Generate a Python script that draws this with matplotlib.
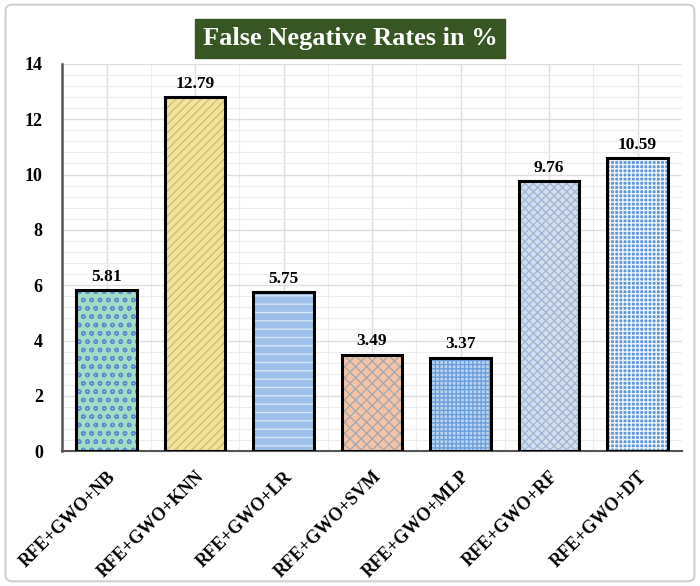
import numpy as np
from matplotlib import pyplot as plt
from matplotlib.patches import FancyBboxPatch

plt.rcParams['font.family'] = ['Liberation Serif', 'DejaVu Serif']
plt.rcParams['hatch.linewidth'] = 1.0

# data
models = ["RFE+GWO+NB", "RFE+GWO+KNN", "RFE+GWO+LR", "RFE+GWO+SVM",
          "RFE+GWO+MLP", "RFE+GWO+RF", "RFE+GWO+DT"]
fnr = [5.81, 12.79, 5.75, 3.49, 3.37, 9.76, 10.59]

# fill colour, pattern colour, hatch
face_cols = ["#a3dcc6", "#f1e397", "#9dbfe9", "#f6c4a4", "#bcd4f1", "#d5deeb", "#5e96dc"]
hatch_cols = ["#5a8fcc", "#cdbd78", "#d8e6f8", "#a4a9b4", "#6a9fdc", "#a3b8d8", "#eef4fc"]
hatches = ["oo", "////", "--", "xxx", "++++", "xxxx", "++++"]

fig = plt.figure(figsize=(7, 5.86), dpi=100)

# outer rounded border
border = FancyBboxPatch((0.008, 0.008), 0.984, 0.984, boxstyle="round,pad=0,rounding_size=0.01",
                        transform=fig.transFigure, fill=False, edgecolor="#d0d0d0", linewidth=1.5)
fig.patches.append(border)

ax = fig.add_axes([0.089, 0.23, 0.885, 0.661])

x = np.arange(len(models))
w = 0.68
# fill + pattern, then black outline on top
for i in range(len(models)):
    ax.bar(x[i], fnr[i], width=w, color=face_cols[i], edgecolor=hatch_cols[i],
           hatch=hatches[i], linewidth=0, zorder=3)
ax.bar(x, fnr, width=w, facecolor="none", edgecolor="black", linewidth=2.2, zorder=4)

for xi, v in zip(x, fnr):
    ax.text(xi, v + 0.2, f"{v:.2f}", ha="center", va="bottom",
            fontsize=12.5, fontweight="bold")

ax.set_xlim(-0.5, len(models) - 0.5)
ax.set_ylim(0, 14)
ax.set_yticks(np.arange(0, 15, 2))
ax.set_yticks(np.arange(0, 14.01, 0.4), minor=True)
ax.set_xticks(x)
ax.set_xticks(np.arange(-0.5, len(models), 1.0), minor=True)
ax.set_xticklabels(models, rotation=45, ha="right", rotation_mode="anchor",
                   fontsize=13, fontweight="bold")
for lab in ax.get_yticklabels():
    lab.set_fontweight("bold")
    lab.set_fontsize(13)

ax.grid(True, which="major", color="#dedede", linewidth=1.0, zorder=0)
ax.grid(True, which="minor", color="#ececec", linewidth=0.8, zorder=0)
ax.tick_params(which="both", length=0)
ax.tick_params(axis="y", pad=14)
ax.tick_params(axis="x", pad=12)

for s in ["top", "right"]:
    ax.spines[s].set_visible(False)
ax.spines["left"].set_color("#555555")
ax.spines["left"].set_linewidth(1.8)
ax.spines["bottom"].set_color("#555555")
ax.spines["bottom"].set_linewidth(1.5)

fig.text(0.5, 0.935, "False Negative Rates in %", ha="center", va="center",
         fontsize=19, fontweight="bold", color="white",
         bbox=dict(boxstyle="square,pad=0.3", facecolor="#375623", edgecolor="#375623"))

fig.savefig("out.png", dpi=100)
